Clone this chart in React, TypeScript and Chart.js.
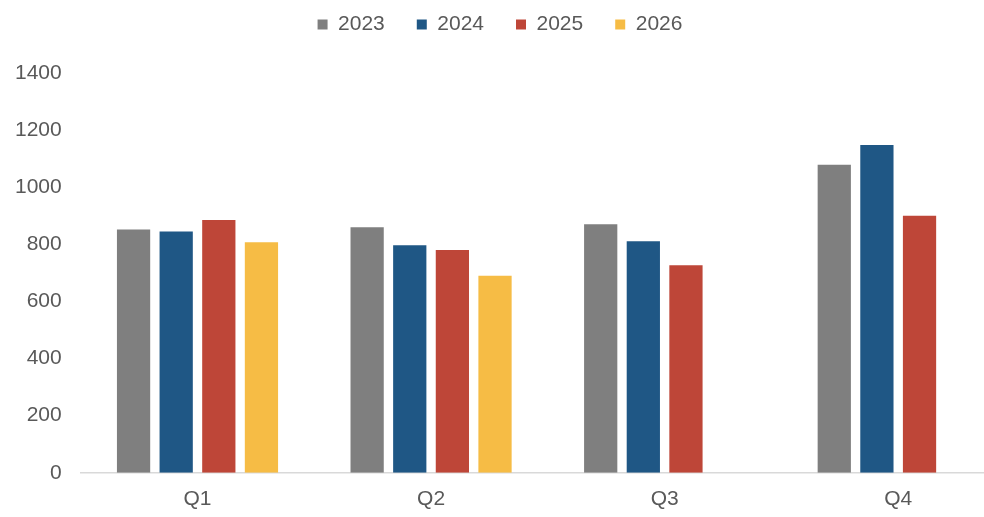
import { useEffect, useRef } from 'react';
import Chart from 'chart.js/auto';

const quarters = ['Q1', 'Q2', 'Q3', 'Q4'];
const years = ['2023', '2024', '2025', '2026'];
const values2023 = [852, 860, 870, 1079];
const values2024 = [845, 797, 811, 1148];
const values2025 = [885, 780, 727, 900];
const values2026 = [807, 690, null, null];
const yearColors = ['#7F7F7F', '#1F5785', '#BE4638', '#F6BC45'];

const FONT = "'Liberation Sans', Arial, sans-serif";

// push the plot area down below the legend, and nudge the legend left
const legendGap = {
  id: 'legendGap',
  beforeInit(chart: any) {
    const fit = chart.legend.fit;
    chart.legend.fit = function () {
      fit.bind(chart.legend)();
      this.height += 28;
    };
  },
  afterLayout(chart: any) {
    chart.legend.right -= 11;
  },
};

export default function App() {
  const chartRef = useRef<HTMLCanvasElement>(null);
  const chartInstance = useRef<Chart | null>(null);

  useEffect(() => {
    if (!chartRef.current) return;
    if (chartInstance.current) chartInstance.current.destroy();

    const series = [values2023, values2024, values2025, values2026];

    chartInstance.current = new Chart(chartRef.current, {
      type: 'bar',
      data: {
        labels: quarters,
        datasets: years.map((year, i) => ({
          label: year,
          data: series[i],
          backgroundColor: yearColors[i],
          borderWidth: 0,
          barPercentage: 0.78,
          categoryPercentage: 0.73,
        })),
      },
      options: {
        responsive: true,
        maintainAspectRatio: false,
        animation: false,
        layout: { padding: { left: -4, right: 2, top: -18, bottom: -1 } },
        plugins: {
          tooltip: { enabled: false },
          legend: {
            position: 'top',
            labels: {
              boxWidth: 10,
              boxHeight: 10,
              padding: 32,
              color: '#595959',
              font: { family: FONT, size: 21 },
            },
          },
        },
        scales: {
          x: {
            grid: { display: false },
            border: { color: '#D9D9D9', width: 1.5 },
            ticks: { color: '#595959', font: { family: FONT, size: 21 }, padding: 6 },
          },
          y: {
            min: 0,
            max: 1400,
            grid: { display: false, drawTicks: false },
            border: { display: false },
            ticks: {
              stepSize: 200,
              padding: 19,
              color: '#595959',
              font: { family: FONT, size: 21 },
              callback: (value) => String(value),
            },
          },
        },
      },
      plugins: [legendGap],
    });

    return () => {
      if (chartInstance.current) {
        chartInstance.current.destroy();
        chartInstance.current = null;
      }
    };
  }, []);

  return (
    <div style={{ position: 'fixed', left: 0, top: 0, width: 984, height: 517, overflow: 'hidden', background: '#fff' }}>
      <div style={{ position: 'relative', width: 1017, height: 517 }}>
        <canvas ref={chartRef} />
      </div>
    </div>
  );
}
